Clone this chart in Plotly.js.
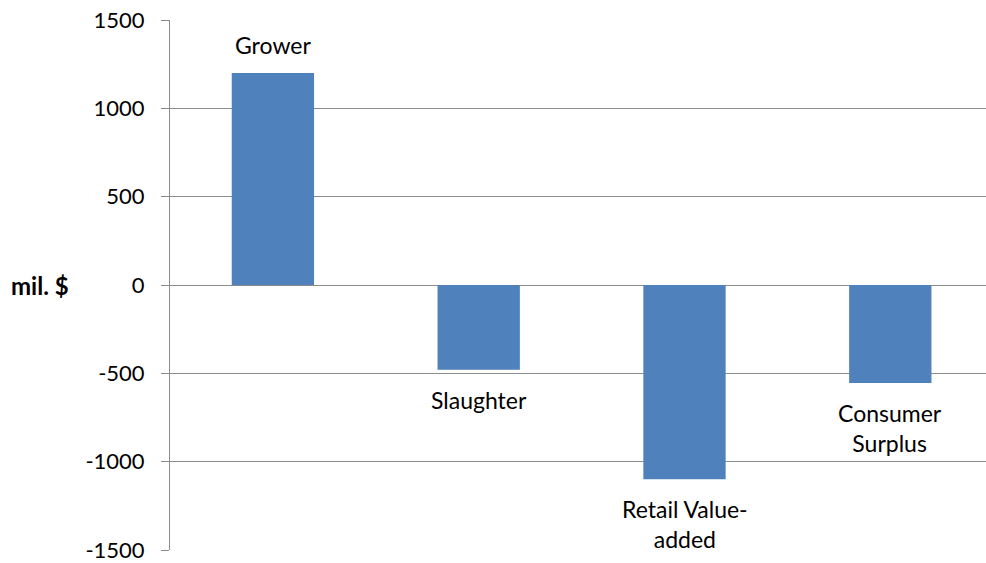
<!DOCTYPE html>
<html>
<head>
<meta charset="utf-8">
<script src="https://cdn.plot.ly/plotly-3.0.1.min.js"></script>
<style>html,body{margin:0;padding:0;background:#fff;}#chart{width:986px;height:563px;}</style>
</head>
<body>
<div id="chart"></div>
<script>
const categories = ["Grower", "Slaughter", "Retail Value-added", "Consumer Surplus"];
const labels = ["Grower", "Slaughter", "Retail Value-<br>added", "Consumer<br>Surplus"];
const values = [1200, -480, -1100, -555];
const yTicks = [-1500, -1000, -500, 0, 500, 1000, 1500];

const FONT = "Lato, 'Open Sans', sans-serif";
const annotations = categories.map((c, i) => ({
  x: c, y: values[i], xref: "x", yref: "y",
  text: labels[i], showarrow: false,
  xanchor: "center",
  yanchor: values[i] >= 0 ? "bottom" : "top",
  yshift: values[i] >= 0 ? 12 : -14,
  font: {family: FONT, size: 23, color: "#000"}
}));
annotations.push({
  xref: "paper", yref: "y", x: (40 - 170) / 816, y: 0, xanchor: "center", yanchor: "middle",
  text: "<b>mil. $</b>", showarrow: false,
  font: {family: FONT, size: 24, color: "#000"}
});

Plotly.newPlot("chart", [{
  type: "bar", x: categories, y: values,
  marker: {color: "#4F81BD", line: {width: 0}},
  hoverinfo: "skip"
}], {
  width: 986, height: 563,
  margin: {l: 170, r: 0, t: 19.5, b: 13},
  paper_bgcolor: "#fff", plot_bgcolor: "#fff",
  bargap: 0.6,
  showlegend: false,
  xaxis: {range: [-0.5, 3.465], showticklabels: false, showgrid: false, zeroline: false, showline: false, ticks: ""},
  yaxis: {range: [-1500, 1500], tickvals: yTicks, ticktext: yTicks.map(String),
    showgrid: true, gridcolor: "#8c8c8c", gridwidth: 1,
    zeroline: true, zerolinecolor: "#8c8c8c", zerolinewidth: 1,
    showline: true, linecolor: "#8c8c8c", linewidth: 1,
    ticks: "outside", ticklen: 8, tickcolor: "#8c8c8c",
    ticklabelstandoff: 12,
    tickfont: {family: FONT, size: 22, color: "#000"}},
  annotations: annotations
}, {displayModeBar: false, staticPlot: true});
</script>
</body>
</html>
